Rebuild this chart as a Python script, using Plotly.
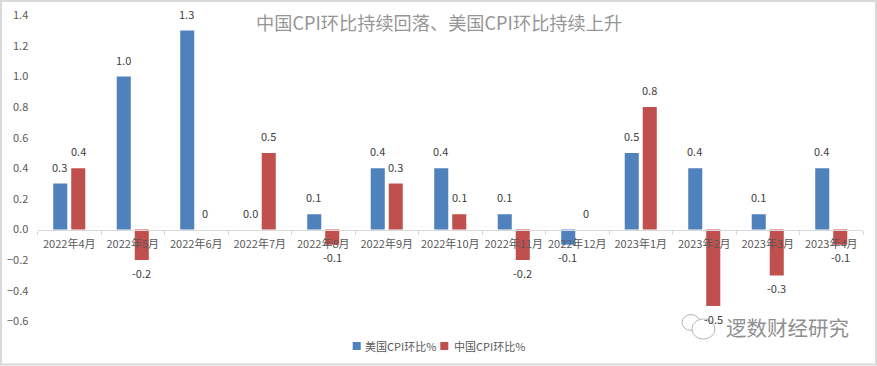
import plotly.graph_objects as go

months = ["2022年4月","2022年5月","2022年6月","2022年7月","2022年8月","2022年9月","2022年10月",
          "2022年11月","2022年12月","2023年1月","2023年2月","2023年3月","2023年4月"]
us_vals = [0.3,1.0,1.3,0.0,0.1,0.4,0.4,0.1,-0.1,0.5,0.4,0.1,0.4]
cn_vals = [0.4,-0.2,0,0.5,-0.1,0.3,0.1,-0.2,0,0.8,-0.5,-0.3,-0.1]
us_text = ["0.3","1.0","1.3","0.0","0.1","0.4","0.4","0.1","-0.1","0.5","0.4","0.1","0.4"]
cn_text = ["0.4","-0.2","0","0.5","-0.1","0.3","0.1","-0.2","0","0.8","-0.5","-0.3","-0.1"]
us_name = "美国CPI环比%"
cn_name = "中国CPI环比%"
title = "中国CPI环比持续回落、美国CPI环比持续上升"
watermark = "逻数财经研究"

W, H = 877, 366
L, R, T, B = 37.5, 863.0, 15.3, 321.3
GRAY = "#595959"
BLUE, RED = "#4F81BD", "#C0504D"
FONT = "Noto Sans CJK SC"

def px(x): return x / W
def py(y): return 1 - y / H

fig = go.Figure()
fig.add_bar(name=us_name, x=months, y=us_vals, marker=dict(color=BLUE, line_width=0))
fig.add_bar(name=cn_name, x=months, y=cn_vals, marker=dict(color=RED, line_width=0))

def paper_text(x, y, text, size, color, xanchor="center"):
    return dict(xref="paper", yref="paper", x=px(x), y=py(y), text=text, showarrow=False,
                xanchor=xanchor, yanchor="middle", font=dict(size=size, color=color, family=FONT))

ann = []
for vals, texts, shift in ((us_vals, us_text, -9.6), (cn_vals, cn_text, 8.8)):
    for m, v, t in zip(months, vals, texts):
        ann.append(dict(x=m, y=v, text=t, showarrow=False, xshift=shift, xanchor="center", yanchor="middle",
                        yshift=-12.5 if v < 0 else 17, font=dict(size=11, color="#404040", family=FONT)))
ann.append(paper_text(438.5, 22, title, 18.2, "#969696"))
ann.append(paper_text(787, 327, watermark, 20.5, "#8f8f8f"))
ann.append(paper_text(363, 345.7, us_name, 11, GRAY, "left"))
ann.append(paper_text(452, 345.7, cn_name, 11, GRAY, "left"))

def circle(cx, cy, r, fill):
    return dict(type="circle", xref="paper", yref="paper", layer="above",
                x0=px(cx - r), x1=px(cx + r), y0=py(cy + r * 0.88), y1=py(cy - r * 0.88),
                fillcolor=fill, line=dict(color="#b5b5b5", width=1))

def swatch(x0, color):
    return dict(type="rect", xref="paper", yref="paper", layer="above",
                x0=px(x0), x1=px(x0 + 8), y0=py(350), y1=py(342),
                fillcolor=color, line_width=0)

shapes = [
    dict(type="rect", xref="paper", yref="paper", layer="below",
         x0=px(1), x1=px(W - 1), y0=py(H - 1.5), y1=py(1),
         line=dict(color="#d9d9d9", width=2), fillcolor="white"),
    circle(691, 322.5, 9, "rgba(255,255,255,0.85)"),
    circle(703.5, 329, 11.5, "rgba(255,255,255,0.85)"),
    swatch(352.7, BLUE),
    swatch(440.3, RED),
]

y_dom = [py(B), py(T)]
fig.update_layout(
    width=W, height=H, autosize=False,
    margin=dict(l=0, r=0, t=0, b=0, pad=0, autoexpand=False),
    paper_bgcolor="white", plot_bgcolor="rgba(0,0,0,0)",
    barmode="group", bargap=0.433, bargroupgap=0.22,
    font=dict(family=FONT, size=11, color=GRAY),
    showlegend=False,
    annotations=ann, shapes=shapes,
    xaxis=dict(type="category", categoryorder="array", categoryarray=months,
               domain=[px(L), px(R)], automargin=False,
               range=[-0.5, 12.5], anchor="free", position=y_dom[0] + 0.3 * (y_dom[1] - y_dom[0]),
               showgrid=False, tickson="boundaries", ticks="outside", ticklen=4, tickcolor="#d9d9d9",
               ticklabelstandoff=4,
               showline=True, linecolor="#d9d9d9", linewidth=1, zeroline=False,
               tickfont=dict(size=11, color=GRAY, family=FONT), tickangle=0, layer="above traces"),
    yaxis=dict(domain=y_dom, range=[-0.6, 1.4], tick0=-0.6, dtick=0.2, tickformat=".1f", showgrid=False,
               automargin=False, zeroline=False, showline=False, ticks="outside", ticklen=6,
               tickcolor="rgba(0,0,0,0)",
               tickfont=dict(size=11, color=GRAY, family=FONT)),
)
fig.write_html("out.html", config=dict(displayModeBar=False),
               post_script="document.body.style.margin='0';")
